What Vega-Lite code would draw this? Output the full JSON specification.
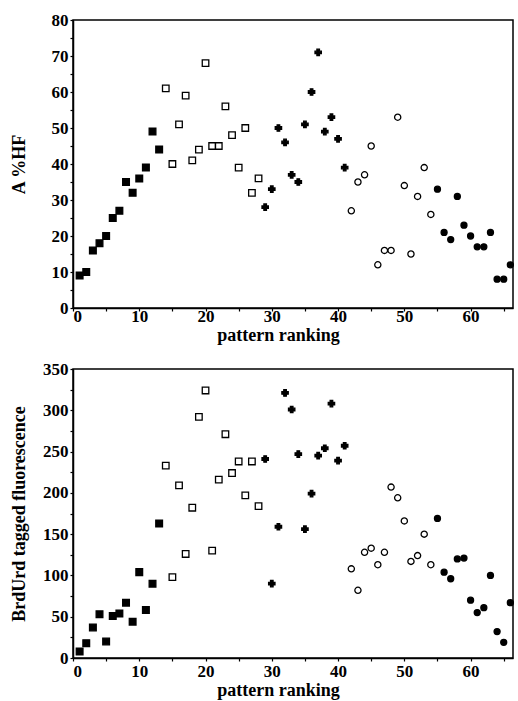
{
  "$schema": "https://vega.github.io/schema/vega-lite/v6.json",
  "background": "white",
  "padding": {"left": 9, "top": 10, "right": 0, "bottom": 0},
  "spacing": 14,
  "config": {
    "view": {"stroke": "black", "strokeWidth": 1.5},
    "axis": {
      "labelFont": "Liberation Serif", "labelFontWeight": "bold", "labelFontSize": 17, "labelColor": "black",
      "titleFont": "Liberation Serif", "titleFontWeight": "bold", "titleFontSize": 18, "titleColor": "black",
      "domainColor": "black", "domainWidth": 1.5, "tickColor": "black", "tickSize": 3, "tickWidth": 1.2, "grid": false
    }
  },
  "datasets": {
    "top": [
      {"r":1,"v":9,"g":"a"},{"r":2,"v":10,"g":"a"},{"r":3,"v":16,"g":"a"},{"r":4,"v":18,"g":"a"},{"r":5,"v":20,"g":"a"},{"r":6,"v":25,"g":"a"},{"r":7,"v":27,"g":"a"},{"r":8,"v":35,"g":"a"},{"r":9,"v":32,"g":"a"},{"r":10,"v":36,"g":"a"},{"r":11,"v":39,"g":"a"},{"r":12,"v":49,"g":"a"},{"r":13,"v":44,"g":"a"},
      {"r":14,"v":61,"g":"b"},{"r":15,"v":40,"g":"b"},{"r":16,"v":51,"g":"b"},{"r":17,"v":59,"g":"b"},{"r":18,"v":41,"g":"b"},{"r":19,"v":44,"g":"b"},{"r":20,"v":68,"g":"b"},{"r":21,"v":45,"g":"b"},{"r":22,"v":45,"g":"b"},{"r":23,"v":56,"g":"b"},{"r":24,"v":48,"g":"b"},{"r":25,"v":39,"g":"b"},{"r":26,"v":50,"g":"b"},{"r":27,"v":32,"g":"b"},{"r":28,"v":36,"g":"b"},
      {"r":29,"v":28,"g":"c"},{"r":30,"v":33,"g":"c"},{"r":31,"v":50,"g":"c"},{"r":32,"v":46,"g":"c"},{"r":33,"v":37,"g":"c"},{"r":34,"v":35,"g":"c"},{"r":35,"v":51,"g":"c"},{"r":36,"v":60,"g":"c"},{"r":37,"v":71,"g":"c"},{"r":38,"v":49,"g":"c"},{"r":39,"v":53,"g":"c"},{"r":40,"v":47,"g":"c"},{"r":41,"v":39,"g":"c"},
      {"r":42,"v":27,"g":"d"},{"r":43,"v":35,"g":"d"},{"r":44,"v":37,"g":"d"},{"r":45,"v":45,"g":"d"},{"r":46,"v":12,"g":"d"},{"r":47,"v":16,"g":"d"},{"r":48,"v":16,"g":"d"},{"r":49,"v":53,"g":"d"},{"r":50,"v":34,"g":"d"},{"r":51,"v":15,"g":"d"},{"r":52,"v":31,"g":"d"},{"r":53,"v":39,"g":"d"},{"r":54,"v":26,"g":"d"},
      {"r":55,"v":33,"g":"e"},{"r":56,"v":21,"g":"e"},{"r":57,"v":19,"g":"e"},{"r":58,"v":31,"g":"e"},{"r":59,"v":23,"g":"e"},{"r":60,"v":20,"g":"e"},{"r":61,"v":17,"g":"e"},{"r":62,"v":17,"g":"e"},{"r":63,"v":21,"g":"e"},{"r":64,"v":8,"g":"e"},{"r":65,"v":8,"g":"e"},{"r":66,"v":12,"g":"e"}
    ],
    "bottom": [
      {"r":1,"v":8,"g":"a"},{"r":2,"v":18,"g":"a"},{"r":3,"v":37,"g":"a"},{"r":4,"v":53,"g":"a"},{"r":5,"v":20,"g":"a"},{"r":6,"v":51,"g":"a"},{"r":7,"v":54,"g":"a"},{"r":8,"v":67,"g":"a"},{"r":9,"v":44,"g":"a"},{"r":10,"v":104,"g":"a"},{"r":11,"v":58,"g":"a"},{"r":12,"v":90,"g":"a"},{"r":13,"v":163,"g":"a"},
      {"r":14,"v":233,"g":"b"},{"r":15,"v":98,"g":"b"},{"r":16,"v":209,"g":"b"},{"r":17,"v":126,"g":"b"},{"r":18,"v":182,"g":"b"},{"r":19,"v":292,"g":"b"},{"r":20,"v":324,"g":"b"},{"r":21,"v":130,"g":"b"},{"r":22,"v":216,"g":"b"},{"r":23,"v":271,"g":"b"},{"r":24,"v":224,"g":"b"},{"r":25,"v":238,"g":"b"},{"r":26,"v":197,"g":"b"},{"r":27,"v":238,"g":"b"},{"r":28,"v":184,"g":"b"},
      {"r":29,"v":241,"g":"c"},{"r":30,"v":90,"g":"c"},{"r":31,"v":159,"g":"c"},{"r":32,"v":321,"g":"c"},{"r":33,"v":301,"g":"c"},{"r":34,"v":247,"g":"c"},{"r":35,"v":156,"g":"c"},{"r":36,"v":199,"g":"c"},{"r":37,"v":245,"g":"c"},{"r":38,"v":254,"g":"c"},{"r":39,"v":308,"g":"c"},{"r":40,"v":239,"g":"c"},{"r":41,"v":257,"g":"c"},
      {"r":42,"v":108,"g":"d"},{"r":43,"v":82,"g":"d"},{"r":44,"v":128,"g":"d"},{"r":45,"v":133,"g":"d"},{"r":46,"v":113,"g":"d"},{"r":47,"v":128,"g":"d"},{"r":48,"v":207,"g":"d"},{"r":49,"v":194,"g":"d"},{"r":50,"v":166,"g":"d"},{"r":51,"v":117,"g":"d"},{"r":52,"v":124,"g":"d"},{"r":53,"v":150,"g":"d"},{"r":54,"v":113,"g":"d"},
      {"r":55,"v":169,"g":"e"},{"r":56,"v":104,"g":"e"},{"r":57,"v":96,"g":"e"},{"r":58,"v":120,"g":"e"},{"r":59,"v":121,"g":"e"},{"r":60,"v":70,"g":"e"},{"r":61,"v":55,"g":"e"},{"r":62,"v":61,"g":"e"},{"r":63,"v":100,"g":"e"},{"r":64,"v":32,"g":"e"},{"r":65,"v":19,"g":"e"},{"r":66,"v":67,"g":"e"}
    ]
  },
  "vconcat": [
    {
      "width": 440, "height": 288,
      "data": {"name": "top"},
      "mark": {"type": "point", "stroke": "black", "strokeWidth": 1.3, "opacity": 1},
      "encoding": {
        "x": {"field": "r", "type": "quantitative", "scale": {"domain": [0, 66.4], "nice": false, "zero": false},
          "axis": {"title": "pattern ranking", "values": [0,5,10,15,20,25,30,35,40,45,50,55,60,65], "labelExpr": "datum.value % 10 == 0 ? datum.label : ''", "labelFontWeight": "bold", "labelPadding": -3, "titlePadding": 2, "titleX": 205}},
        "y": {"field": "v", "type": "quantitative", "scale": {"domain": [0, 80], "nice": false},
          "axis": {"title": "A %HF", "values": [0,5,10,15,20,25,30,35,40,45,50,55,60,65,70,75,80], "labelExpr": "datum.value % 10 == 0 ? datum.label : ''", "labelFontWeight": "bold", "minExtent": 38, "maxExtent": 38, "titlePadding": 7}},
        "shape": {"field": "g", "type": "nominal", "scale": {"domain": ["a","b","c","d","e"], "range": ["square","square","cross","circle","circle"]}, "legend": null},
        "fill": {"field": "g", "type": "nominal", "scale": {"domain": ["a","b","c","d","e"], "range": ["black","white","black","white","black"]}, "legend": null},
        "size": {"field": "g", "type": "nominal", "scale": {"domain": ["a","b","c","d","e"], "range": [45, 36, 22, 36, 45]}, "legend": null}
      }
    },
    {
      "width": 440, "height": 289,
      "data": {"name": "bottom"},
      "mark": {"type": "point", "stroke": "black", "strokeWidth": 1.3, "opacity": 1},
      "encoding": {
        "x": {"field": "r", "type": "quantitative", "scale": {"domain": [0, 66.4], "nice": false, "zero": false},
          "axis": {"title": "pattern ranking", "values": [0,5,10,15,20,25,30,35,40,45,50,55,60,65], "labelExpr": "datum.value % 10 == 0 ? datum.label : ''", "labelFontWeight": "bold", "labelPadding": 2, "titlePadding": 2, "titleX": 205}},
        "y": {"field": "v", "type": "quantitative", "scale": {"domain": [0, 350], "nice": false},
          "axis": {"title": "BrdUrd tagged fluorescence", "values": [0,25,50,75,100,125,150,175,200,225,250,275,300,325,350], "labelExpr": "datum.value % 50 == 0 ? datum.label : ''", "labelFontWeight": "bold", "minExtent": 38, "maxExtent": 38, "titlePadding": 7}},
        "shape": {"field": "g", "type": "nominal", "scale": {"domain": ["a","b","c","d","e"], "range": ["square","square","cross","circle","circle"]}, "legend": null},
        "fill": {"field": "g", "type": "nominal", "scale": {"domain": ["a","b","c","d","e"], "range": ["black","white","black","white","black"]}, "legend": null},
        "size": {"field": "g", "type": "nominal", "scale": {"domain": ["a","b","c","d","e"], "range": [45, 36, 22, 36, 45]}, "legend": null}
      }
    }
  ]
}
